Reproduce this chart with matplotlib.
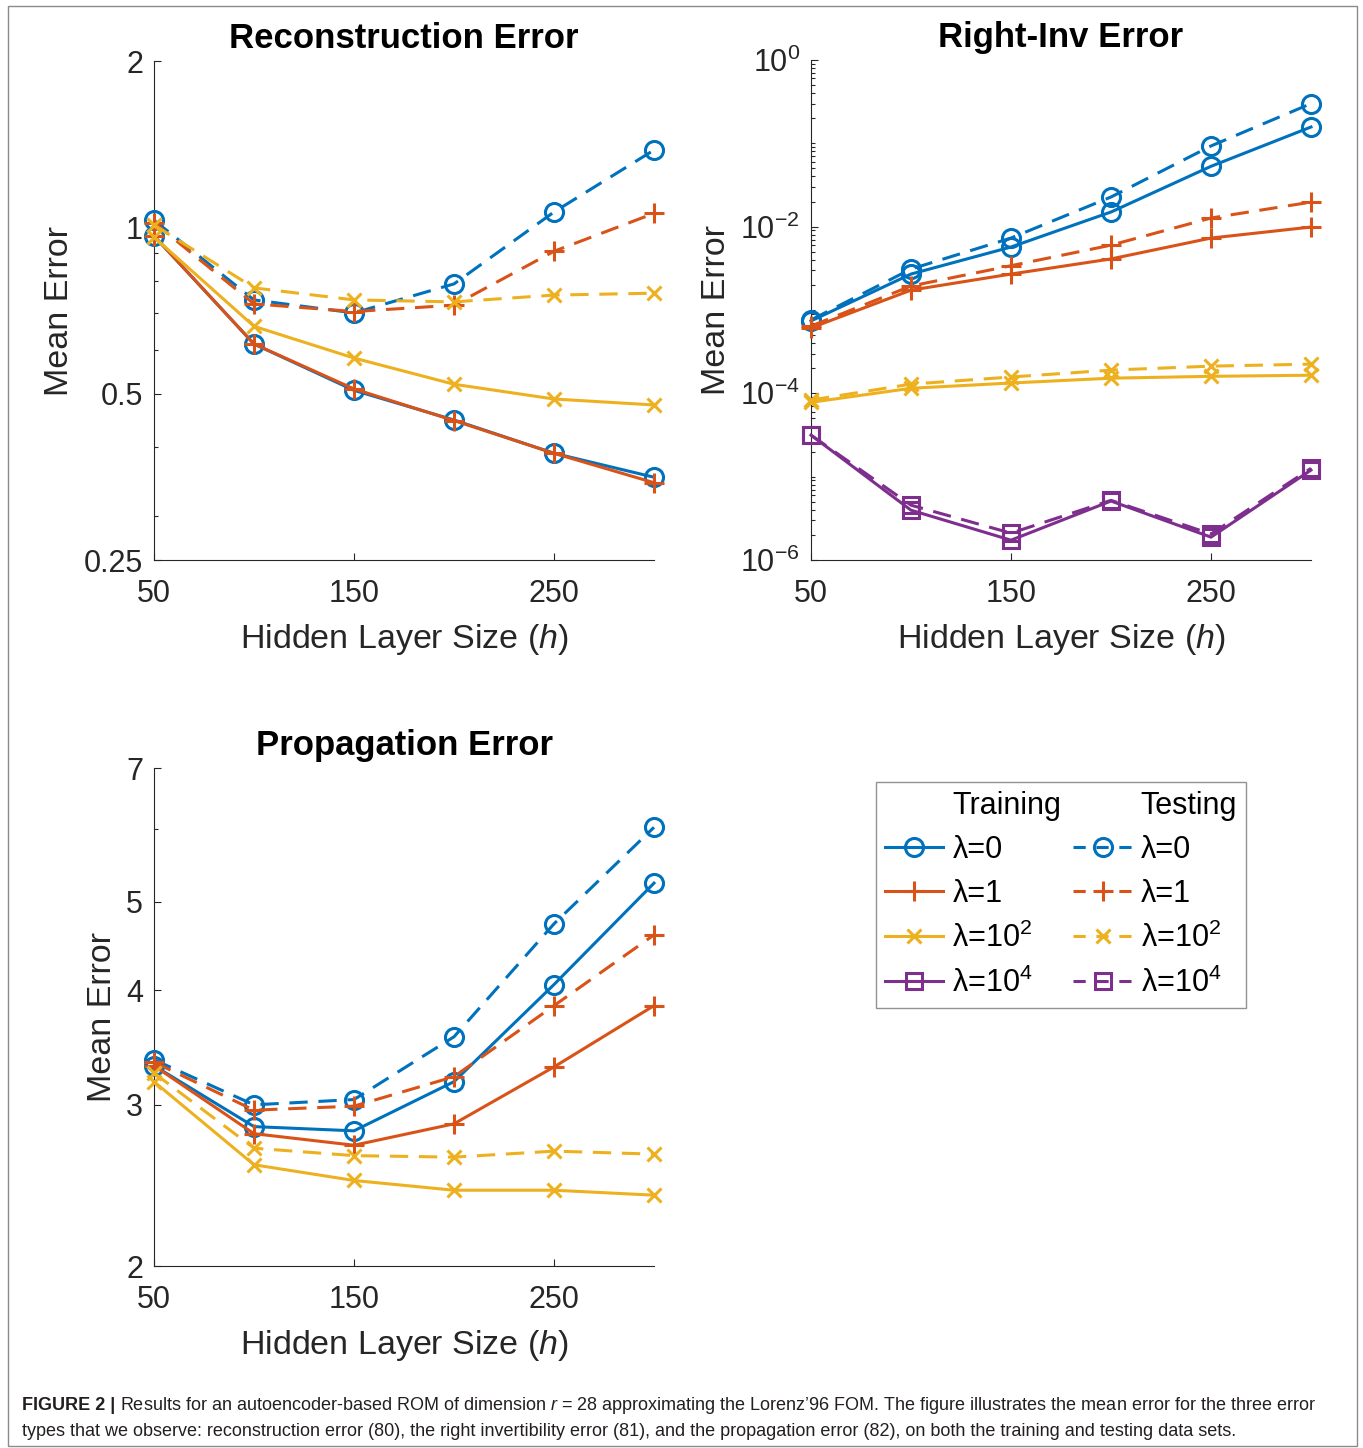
import numpy as np
import matplotlib
matplotlib.use('Agg')
import matplotlib.pyplot as plt
from matplotlib.lines import Line2D
from matplotlib.patches import Rectangle
from matplotlib.ticker import FixedLocator, LogLocator, NullFormatter, FixedFormatter
from matplotlib import font_manager

# hidden layer sizes
h = [50, 100, 150, 200, 250, 300]

# reconstruction error
recon_train_0 = [0.965, 0.615, 0.507, 0.448, 0.390, 0.353]
recon_test_0 = [1.03, 0.739, 0.700, 0.790, 1.066, 1.38]
recon_train_1 = [0.965, 0.615, 0.510, 0.447, 0.390, 0.345]
recon_test_1 = [1.02, 0.727, 0.704, 0.723, 0.905, 1.06]
recon_train_2 = [0.960, 0.662, 0.580, 0.520, 0.489, 0.477]
recon_test_2 = [1.01, 0.777, 0.739, 0.733, 0.754, 0.760]

# right-inv error
rinv_train_0 = [7.4e-4, 2.7e-3, 5.7e-3, 1.5e-2, 5.3e-2, 0.157]
rinv_test_0 = [7.6e-4, 3.1e-3, 7.3e-3, 2.27e-2, 9.3e-2, 0.30]
rinv_train_1 = [6.1e-4, 1.73e-3, 2.7e-3, 4.1e-3, 7.3e-3, 9.9e-3]
rinv_test_1 = [6.4e-4, 1.94e-3, 3.4e-3, 6.0e-3, 1.27e-2, 1.97e-2]
rinv_train_2 = [7.8e-5, 1.15e-4, 1.33e-4, 1.52e-4, 1.60e-4, 1.65e-4]
rinv_test_2 = [8.3e-5, 1.29e-4, 1.57e-4, 1.90e-4, 2.12e-4, 2.24e-4]
rinv_train_4 = [3.15e-5, 3.96e-6, 1.73e-6, 5.1e-6, 1.88e-6, 1.2e-5]
rinv_test_4 = [3.15e-5, 4.55e-6, 2.1e-6, 5.2e-6, 2.05e-6, 1.26e-5]

# propagation error
prop_train_0 = [3.31, 2.84, 2.81, 3.18, 4.06, 5.24]
prop_test_0 = [3.36, 3.00, 3.04, 3.56, 4.73, 6.03]
prop_train_1 = [3.31, 2.79, 2.71, 2.86, 3.30, 3.85]
prop_test_1 = [3.34, 2.96, 2.99, 3.22, 3.85, 4.60]
prop_train_2 = [3.18, 2.58, 2.48, 2.42, 2.42, 2.39]
prop_test_2 = [3.25, 2.69, 2.64, 2.63, 2.67, 2.65]

lam_labels = ['\u03bb=0', '\u03bb=1', '\u03bb=10$^2$', '\u03bb=10$^4$']

plt.rcParams['font.family'] = 'Liberation Sans'
plt.rcParams['mathtext.fontset'] = 'custom'
plt.rcParams['mathtext.rm'] = 'Liberation Sans'
plt.rcParams['mathtext.it'] = 'Liberation Sans:italic'
plt.rcParams['mathtext.bf'] = 'Liberation Sans:bold'

BLUE = '#0072BD'
RED = '#D95319'
YEL = '#EDB120'
PUR = '#7E2F8E'
AXC = '#262626'

styles = [
  dict(color=BLUE, marker='o', ms=13, mfc='none'),
  dict(color=RED, marker='+', ms=15),
  dict(color=YEL, marker='x', ms=10),
  dict(color=PUR, marker='s', ms=11, mfc='none'),
]

def draw(ax, train, test):
  for i, (tr, te) in enumerate(zip(train, test)):
    if tr is None:
      continue
    st = styles[i]
    ax.plot(h, tr, lw=2.2, mew=2.2, clip_on=False, zorder=3, **st)
    ax.plot(h, te, lw=2.2, mew=2.2, ls=(0, (6, 3.5)), clip_on=False, zorder=3, **st)

def style_axes(ax, title):
  ax.set_xlim(50, 300)
  ax.set_xticks([50, 150, 250])
  ax.xaxis.set_minor_locator(FixedLocator([]))
  for s in ['top', 'right']:
    ax.spines[s].set_visible(False)
  for s in ['left', 'bottom']:
    ax.spines[s].set_color(AXC)
    ax.spines[s].set_linewidth(0.8)
  ax.tick_params(which='both', direction='in', colors=AXC, labelcolor=AXC,
                 labelsize=22, width=0.8)
  ax.tick_params(which='major', length=5)
  ax.tick_params(axis='x', which='major', pad=14)
  ax.tick_params(axis='y', which='major', pad=8)
  ax.tick_params(which='minor', length=3)
  ax.set_title(title, fontsize=25, fontweight='bold', pad=9)
  ax.set_xlabel('Hidden Layer Size ($h$)', fontsize=24.5, color=AXC, labelpad=9)
  ax.set_ylabel('Mean Error', fontsize=24.5, color=AXC, labelpad=6)

fig = plt.figure(figsize=(13.63, 14.48), dpi=100)
W, H = 1363.0, 1448.0

def add_axes(l, t, r, b):
  return fig.add_axes([l / W, 1 - b / H, (r - l) / W, (b - t) / H])

# reconstruction
ax1 = add_axes(154, 61, 654, 560)
draw(ax1, [recon_train_0, recon_train_1, recon_train_2, None],
     [recon_test_0, recon_test_1, recon_test_2, None])
ax1.set_yscale('log')
ax1.set_ylim(0.25, 2)
ax1.yaxis.set_major_locator(FixedLocator([0.25, 0.5, 1, 2]))
ax1.yaxis.set_major_formatter(FixedFormatter(['0.25', '0.5', '1', '2']))
ax1.yaxis.set_minor_locator(FixedLocator([0.3, 0.4, 0.6, 0.7, 0.8, 0.9]))
ax1.yaxis.set_minor_formatter(NullFormatter())
style_axes(ax1, 'Reconstruction Error')

# right-inv
ax2 = add_axes(811, 60, 1311, 560)
draw(ax2, [rinv_train_0, rinv_train_1, rinv_train_2, rinv_train_4],
     [rinv_test_0, rinv_test_1, rinv_test_2, rinv_test_4])
ax2.set_yscale('log')
ax2.set_ylim(1e-6, 1)
ax2.yaxis.set_major_locator(FixedLocator([1e-6, 1e-4, 1e-2, 1]))
ax2.yaxis.set_major_formatter(FixedFormatter(['$10^{-6}$', '$10^{-4}$', '$10^{-2}$', '$10^{0}$']))
ax2.yaxis.set_minor_locator(LogLocator(base=10, subs=np.arange(1, 10), numticks=20))
ax2.yaxis.set_minor_formatter(NullFormatter())
style_axes(ax2, 'Right-Inv Error')

# propagation
ax3 = add_axes(154, 768, 654, 1266)
draw(ax3, [prop_train_0, prop_train_1, prop_train_2, None],
     [prop_test_0, prop_test_1, prop_test_2, None])
ax3.set_yscale('log')
ax3.set_ylim(2, 7)
ax3.yaxis.set_major_locator(FixedLocator([2, 3, 4, 5, 7]))
ax3.yaxis.set_major_formatter(FixedFormatter(['2', '3', '4', '5', '7']))
ax3.yaxis.set_minor_locator(FixedLocator([6]))
ax3.yaxis.set_minor_formatter(NullFormatter())
style_axes(ax3, 'Propagation Error')

# legend: Training column, Testing column
blank = Line2D([], [], ls='none', marker='none')
handles = [blank]
labels = ['Training']
for i in range(4):
  handles.append(Line2D([], [], lw=2.2, mew=2.2, **styles[i]))
  labels.append(lam_labels[i])
handles.append(blank)
labels.append('Testing')
for i in range(4):
  handles.append(Line2D([], [], lw=2.2, mew=2.2, ls=(0, (4, 3.5)), **styles[i]))
  labels.append(lam_labels[i])
leg = fig.legend(handles, labels, ncol=2, loc='upper left',
                 bbox_to_anchor=(876 / W, 1 - 782 / H), borderaxespad=0,
                 fontsize=22, frameon=True, fancybox=False, handlelength=1.9,
                 handletextpad=0.3, columnspacing=0.4, labelspacing=0.45,
                 borderpad=0.3)
leg.get_frame().set_edgecolor('#777777')
leg.get_frame().set_linewidth(1.0)

# frame and caption
fig.patches.append(Rectangle((8 / W, 1 - 1446 / H), (1357 - 8) / W, (1446 - 6) / H,
                             transform=fig.transFigure, fill=False,
                             edgecolor='#8a8a8a', lw=1.0))

cap_font = 'Liberation Sans Narrow'
names = set(f.name for f in font_manager.fontManager.ttflist)
if cap_font not in names:
  cap_font = 'Liberation Sans'

r = fig.canvas.get_renderer()
t0 = fig.text(22 / W, 1 - 1405 / H, 'FIGURE 2 |', fontsize=13, fontweight='bold',
              family=cap_font, va='center', color='#231f20')
bb = t0.get_window_extent(renderer=r)
line1 = ('Results for an autoencoder-based ROM of dimension $r$ = 28 approximating the '
         'Lorenz\u201996 FOM. The figure illustrates the mean error for the three error')
line2 = ('types that we observe: reconstruction error (80), the right invertibility error (81), '
         'and the propagation error (82), on both the training and testing data sets.')
fig.text(bb.x1 / W + 5 / W, 1 - 1405 / H, line1, fontsize=13, family=cap_font,
         va='center', color='#231f20')
fig.text(22 / W, 1 - 1431 / H, line2, fontsize=13, family=cap_font,
         va='center', color='#231f20')

plt.savefig('out.png', dpi=100)
